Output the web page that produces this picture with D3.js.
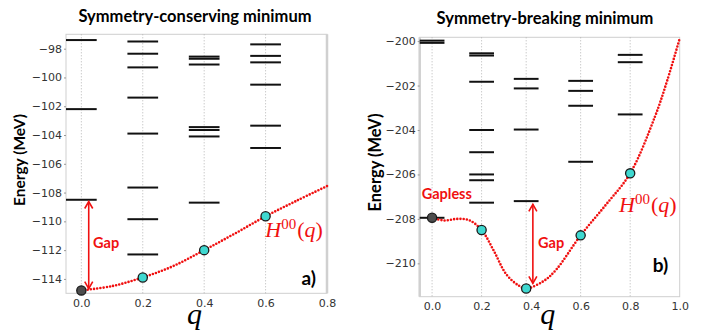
<!DOCTYPE html>
<html lang="en">
<head>
<meta charset="UTF-8">
<title>Energy spectra</title>
<script src="https://cdn.jsdelivr.net/npm/d3@7"></script>
<style>
    body { margin: 0; background: #fff; }
</style>
</head>
<body>
<svg width="706" height="336"></svg>
<script>
// a) symmetry-conserving minimum
var qA = [0, 0.2, 0.4, 0.6];
var levelsA = [
    [-97.4, -102.2, -108.5],
    [-97.5, -98.35, -99.3, -101.4, -103.9, -107.65, -109.85, -112.3],
    [-98.55, -98.7, -99.1, -103.45, -103.65, -104.1, -108.7],
    [-97.7, -98.5, -98.95, -100.5, -103.35, -104.9]
];
var groundA = [-114.8, -113.9, -112.0, -109.65];
var curveQA = [0, 0.1, 0.2, 0.3, 0.4, 0.5, 0.6, 0.7, 0.8];
var curveEA = [-114.8, -114.5, -113.9, -113.1, -112.0, -110.85, -109.65, -108.58, -107.55];
var xTicksA = [0, 0.2, 0.4, 0.6, 0.8];
var yTicksA = [-114, -112, -110, -108, -106, -104, -102, -100, -98];

// b) symmetry-breaking minimum
var qB = [0, 0.2, 0.38, 0.6, 0.8];
var levelsB = [
    [-199.98, -200.08, -207.95],
    [-200.55, -200.65, -201.83, -204.0, -205.0, -206.0, -206.26, -207.27],
    [-201.7, -202.13, -203.98, -207.2],
    [-201.79, -202.24, -202.91, -205.43],
    [-200.62, -200.95, -203.3]
];
var groundB = [-207.95, -208.5, -211.13, -208.74, -205.95];
var curveQB = [0, 0.05, 0.1, 0.15, 0.2, 0.25, 0.3, 0.35, 0.38, 0.45, 0.5, 0.6, 0.7, 0.8, 0.9, 0.95, 1.0];
var curveEB = [-207.95, -208.07, -208.0, -208.06, -208.5, -209.45, -210.5, -211.0, -211.13, -210.8, -210.3, -208.74, -207.39, -205.95, -203.4, -201.76, -199.88];
var xTicksB = [0, 0.2, 0.4, 0.6, 0.8, 1.0];
var yTicksB = [-210, -208, -206, -204, -202, -200];

var svg = d3.select("svg");
var red = "#f01010";

function arrowHead(g, x0, y0, dir) {
    // open chevron, dir = +1 points down, -1 points up
    g.append("path")
        .attr("d", "M" + (x0 - 4) + "," + (y0 - dir * 7) + "L" + x0 + "," + y0 + "L" + (x0 + 4) + "," + (y0 - dir * 7))
        .attr("fill", "none").attr("stroke", red).attr("stroke-width", 1.6);
}

function drawPanel(p) {
    var x = d3.scaleLinear().domain(p.xDomain).range(p.xRange);
    var y = d3.scaleLinear().domain(p.yDomain).range(p.yRange);
    var g = svg.append("g");

    // frame
    g.append("rect")
        .attr("x", p.xRange[0]).attr("y", p.yRange[1])
        .attr("width", p.xRange[1] - p.xRange[0]).attr("height", p.yRange[0] - p.yRange[1])
        .attr("fill", "none").attr("stroke", "#cfcfcf").attr("stroke-width", 1);
    g.append("line")
        .attr("x1", p.thickSide).attr("x2", p.thickSide)
        .attr("y1", p.yRange[1]).attr("y2", p.yRange[0])
        .attr("stroke", "#d0d0d0").attr("stroke-width", 2.5);

    // dotted guides at each q column
    g.selectAll(".grid").data(p.q).enter().append("line")
        .attr("x1", d => x(d)).attr("x2", d => x(d))
        .attr("y1", p.yRange[1]).attr("y2", p.yRange[0])
        .attr("stroke", "#b5b5b5").attr("stroke-width", 1).attr("stroke-dasharray", "1,2");

    // axes
    var yAxis = g.append("g")
        .attr("transform", "translate(" + p.xRange[0] + ",0)")
        .call(d3.axisLeft(y).tickValues(p.yTicks).tickSize(2).tickPadding(2).tickFormat(d3.format("d")));
    var xAxis = g.append("g")
        .attr("transform", "translate(0," + p.yRange[0] + ")")
        .call(d3.axisBottom(x).tickValues(p.xTicks).tickSize(0).tickPadding(6).tickFormat(d3.format(".1f")));
    [yAxis, xAxis].forEach(function (a) {
        a.select(".domain").remove();
        a.selectAll("line").attr("stroke", "#999");
        a.selectAll("text").attr("fill", "#333").style("font-family", "DejaVu Sans").style("font-size", "11px");
    });

    // energy levels
    p.levels.forEach(function (lv, i) {
        g.selectAll(null).data(lv).enter().append("line")
            .attr("x1", x(p.q[i] - 0.05)).attr("x2", x(p.q[i] + 0.05))
            .attr("y1", d => y(d)).attr("y2", d => y(d))
            .attr("stroke", "#111").attr("stroke-width", 2);
    });

    // H00(q) curve
    var line = d3.line().x((d, i) => x(p.curveQ[i])).y(d => y(d)).curve(d3.curveCatmullRom);
    g.append("path").datum(p.curveE)
        .attr("d", line)
        .attr("fill", "none").attr("stroke", red).attr("stroke-width", 2.6)
        .attr("stroke-linecap", "round").attr("stroke-dasharray", "0,3.2");

    // gap arrow
    var ax = x(p.gap[0]);
    g.append("line").attr("x1", ax).attr("x2", ax)
        .attr("y1", y(p.gap[1]) + 1).attr("y2", y(p.gap[2]) - 1)
        .attr("stroke", red).attr("stroke-width", 1.6);
    arrowHead(g, ax, y(p.gap[1]) + 1, -1);
    arrowHead(g, ax, y(p.gap[2]) - 1, 1);

    // ground-state markers
    g.selectAll(".pt").data(p.ground).enter().append("circle")
        .attr("cx", (d, i) => x(p.q[i])).attr("cy", d => y(d)).attr("r", 4.6)
        .attr("fill", (d, i) => i === 0 ? "#4d4d4d" : "#3fd8d0")
        .attr("stroke", "#1a1a1a").attr("stroke-width", 1.3);

    // texts
    g.append("text").text(p.title)
        .attr("x", p.titlePos[0]).attr("y", p.titlePos[1]).attr("text-anchor", "middle")
        .style("font-family", "Lato").style("font-weight", "bold").style("font-size", "16.5px");
    g.append("text").text("Energy (MeV)")
        .attr("transform", "translate(" + p.yLabelPos[0] + "," + p.yLabelPos[1] + ") rotate(-90)")
        .attr("text-anchor", "middle")
        .style("font-family", "Lato").style("font-weight", "bold").style("font-size", p.yLabelSize);
    g.append("text").text("q")
        .attr("x", (p.xRange[0] + p.xRange[1]) / 2 - 2).attr("y", 324).attr("text-anchor", "middle")
        .style("font-family", "Liberation Serif").style("font-style", "italic").style("font-size", "30px");
    g.append("text").text(p.tag)
        .attr("x", x(p.tagPos[0])).attr("y", y(p.tagPos[1])).attr("text-anchor", "end")
        .style("font-family", "Lato").style("font-weight", "bold").style("font-size", "19px");
    p.redLabels.forEach(function (t) {
        g.append("text").text(t[0])
            .attr("x", x(t[1])).attr("y", y(t[2]) + 5)
            .attr("fill", red)
            .style("font-family", "Lato").style("font-weight", "bold").style("font-size", "14.5px");
    });
    var h = g.append("text")
        .attr("x", x(p.hPos[0])).attr("y", y(p.hPos[1]))
        .attr("fill", red).style("font-family", "Liberation Serif").style("font-size", "22px");
    h.append("tspan").text("H").style("font-style", "italic");
    h.append("tspan").text("00").attr("dy", -8).style("font-size", "15px");
    h.append("tspan").text("(").attr("dy", 8).attr("dx", 1);
    h.append("tspan").text("q").style("font-style", "italic");
    h.append("tspan").text(")");
}

drawPanel({
    q: qA, levels: levelsA, ground: groundA, curveQ: curveQA, curveE: curveEA,
    xTicks: xTicksA, yTicks: yTicksA,
    xDomain: [-0.05, 0.8], xRange: [66, 327],
    yDomain: [-115, -97], yRange: [293.3, 34.3],
    thickSide: 327,
    title: "Symmetry-conserving minimum", titlePos: [195, 21.5],
    yLabelPos: [25, 160], yLabelSize: "15.5px",
    tag: "a)", tagPos: [0.764, -114.45],
    gap: [0.024, -108.55, -114.75],
    redLabels: [["Gap", 0.038, -111.5]],
    hPos: [0.599, -111.06]
});

drawPanel({
    q: qB, levels: levelsB, ground: groundB, curveQ: curveQB, curveE: curveEB,
    xTicks: xTicksB, yTicks: yTicksB,
    xDomain: [-0.05, 1.0], xRange: [419.7, 679.7],
    yDomain: [-211.5, -199.83], yRange: [296.7, 37.3],
    thickSide: 419.7,
    title: "Symmetry-breaking minimum", titlePos: [545, 24],
    yLabelPos: [381, 162.5], yLabelSize: "16.5px",
    tag: "b)", tagPos: [0.954, -210.4],
    gap: [0.407, -207.3, -210.95],
    redLabels: [["Gap", 0.428, -209.1], ["Gapless", -0.042, -206.9]],
    hPos: [0.755, -207.67]
});
</script>
</body>
</html>
